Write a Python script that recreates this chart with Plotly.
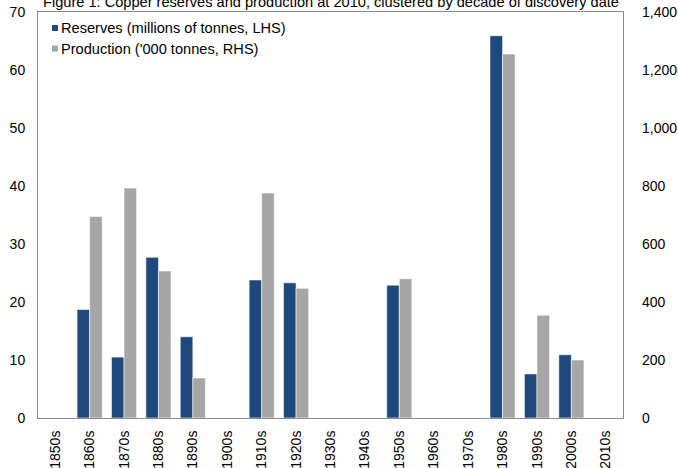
import plotly.graph_objects as go

# Decade of discovery for each cluster of mines
decades = ["1850s", "1860s", "1870s", "1880s", "1890s", "1900s", "1910s", "1920s",
           "1930s", "1940s", "1950s", "1960s", "1970s", "1980s", "1990s", "2000s", "2010s"]

# Copper reserves, millions of tonnes (left axis)
reserves = [None, 18.7, 10.5, 27.7, 14.0, None, 23.8, 23.3,
            None, None, 22.9, None, None, 65.9, 7.6, 10.9, None]

# Copper production, thousand tonnes (right axis)
production = [None, 695, 793, 507, 138, None, 776, 447,
              None, None, 480, None, None, 1255, 354, 200, None]

reserves_name = "Reserves (millions of tonnes, LHS)"
production_name = "Production ('000 tonnes, RHS)"
title_text = "Figure 1: Copper reserves and production at 2010, clustered by decade of discovery date"

BLUE = "#1F497D"
GREY = "#A6A6A6"
FRAME = "#8C8C8C"
FONT = "Liberation Sans, Arial, sans-serif"

fig = go.Figure()
fig.add_trace(go.Bar(
    x=decades, y=reserves, name=reserves_name, yaxis="y", offsetgroup="res",
    marker=dict(color=BLUE, line=dict(color="rgba(255,255,255,0.55)", width=1)),
    showlegend=False,
))
fig.add_trace(go.Bar(
    x=decades, y=production, name=production_name, yaxis="y2", offsetgroup="prod",
    marker=dict(color=GREY, line=dict(color="rgba(255,255,255,0.55)", width=1)),
    showlegend=False,
))

fig.update_layout(
    width=678, height=468,
    margin=dict(l=38, r=55, t=12, b=50, pad=0),
    paper_bgcolor="white", plot_bgcolor="white",
    font=dict(family=FONT, size=14, color="#000000"),
    barmode="group", bargap=0.27, bargroupgap=0.0,
    xaxis=dict(
        type="category", tickangle=-90, ticks="", showgrid=False,
        showline=True, mirror=True, linecolor=FRAME, linewidth=1,
        ticklabelstandoff=6, automargin=False,
        tickfont=dict(family=FONT, size=14, color="#000000"),
    ),
    yaxis=dict(
        range=[0, 70], dtick=10, ticks="", showgrid=False, zeroline=False,
        showline=True, mirror=True, linecolor=FRAME, linewidth=1,
        ticklabelstandoff=9, automargin=False,
        tickfont=dict(family=FONT, size=14, color="#000000"),
    ),
    yaxis2=dict(
        range=[0, 1400], dtick=200, tickformat=",", ticks="", showgrid=False,
        zeroline=False, showline=False, overlaying="y", side="right",
        ticklabelstandoff=18, automargin=False,
        tickfont=dict(family=FONT, size=14, color="#000000"),
    ),
)

# Title sitting just above the plot frame
fig.add_annotation(
    text=title_text, xref="paper", yref="paper", x=0.5, y=1,
    xanchor="center", yanchor="bottom", yshift=0, showarrow=False,
    font=dict(family=FONT, size=14.6, color="#000000"),
)

# Legend drawn inside the top-left corner of the frame
legend_rows = [(reserves_name, BLUE, -16), (production_name, GREY, -36.5)]
for label, color, offset in legend_rows:
    fig.add_shape(
        type="rect", xref="paper", yref="paper",
        xsizemode="pixel", ysizemode="pixel", xanchor=0, yanchor=1,
        x0=14, x1=20, y0=offset - 3, y1=offset + 3,
        fillcolor=color, line=dict(width=0),
    )
    fig.add_annotation(
        text=label, xref="paper", yref="paper", x=0, y=1,
        xanchor="left", yanchor="middle", xshift=21, yshift=offset,
        showarrow=False, font=dict(family=FONT, size=14.6, color="#000000"),
    )

fig.write_html("out.html")
